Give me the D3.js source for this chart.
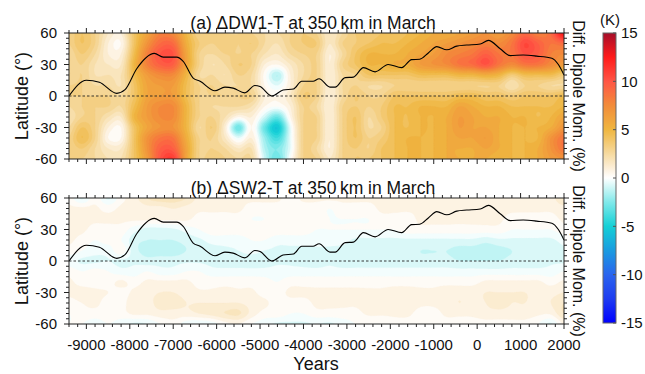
<!DOCTYPE html>
<html>
<head>
<meta charset="utf-8">
<script src="https://cdn.jsdelivr.net/npm/d3@7"></script>
<style>
  body { margin: 0; background: #fff; }
  text { font-family: "Liberation Sans", Arial, sans-serif; fill: #111; }
</style>
</head>
<body>
<div id="chart"></div>
<script>
// grid columns (years) and rows (latitudes) of the temperature differences
const gridYears = [-9400, -9100, -8800, -8500, -8200, -7900, -7600, -7300, -7000, -6700,
  -6400, -6100, -5800, -5500, -5200, -4900, -4600, -4300, -4000, -3700,
  -3400, -3100, -2800, -2500, -2200, -1900, -1600, -1300, -1000, -700,
  -400, -100, 200, 500, 800, 1100, 1400, 1700, 2000];
const gridLats = [60, 50, 40, 30, 20, 10, 0, -10, -20, -30, -40, -50, -60];

// (a) DW1-T, one column per year, values from 60N down to 60S (K)
const dw1 = [
  [3, 3, 2.5, 2.5, 2.5, 3, 3, 2.5, 2, 2.5, 3, 3, 3],
  [4, 4, 3.5, 3, 3, 3, 3, 3, 3, 4, 4.5, 3.5, 3],
  [3, 3, 2.5, 2, 2, 2.5, 3, 3, 3, 3, 3, 2.5, 2.5],
  [1.5, 1, 1, 1.5, 2, 2.5, 3, 3, 2, 1, 0.5, 1.5, 2],
  [1, 0.5, 1, 1.5, 2, 2, 2.5, 2.5, 1.5, 0.5, 0.5, 1.5, 2],
  [4, 4, 4.5, 5, 4.5, 4, 4, 4.5, 5, 4, 4, 4, 4],
  [6, 7, 8, 8, 6.5, 6, 6, 6.5, 6.5, 6, 7, 7, 6.5],
  [8, 9, 10, 9.5, 7.5, 6.5, 6.5, 7.5, 7.5, 7, 8.5, 9.5, 10],
  [7.5, 9, 10, 9.5, 7.5, 6.5, 6.5, 7.5, 7.5, 7, 8.5, 9.5, 11],
  [5, 5.5, 6, 6, 5, 4.5, 4.5, 5, 5, 5, 5.5, 6, 6],
  [3, 3.5, 3, 3, 2.5, 3, 3, 3, 3, 2.5, 3, 3, 3],
  [3.5, 3, 2.5, 2, 2.5, 3, 3, 2.5, 3, 3.5, 3, 3, 3.5],
  [3, 3.5, 3, 2.5, 2, 2.5, 3, 2.5, 2, 1, 1.5, 2.5, 3],
  [3, 3, 3, 3.5, 3, 2.5, 3, 2.5, 0.5, -3, -0.5, 1.5, 2.5],
  [3, 3.5, 3, 3, 2.5, 2.5, 3, 2, 1, 0.5, 1, 2, 2.5],
  [2.5, 2.5, 2, 1, 0.3, 0.5, 1, 0.5, -1, -3, -2, -1.5, -1],
  [2.5, 2, 1.5, 0.5, -1.5, -0.5, 0.5, 0, -3, -5.5, -4, -2.5, -3],
  [3, 3, 2.5, 1.5, 1, 1, 1.5, 1, 0.5, -0.5, -0.5, -0.5, 0],
  [3.5, 3.5, 3, 2.5, 2.5, 3, 3.5, 3, 3, 3, 3, 3, 3],
  [3, 3.5, 3, 3, 3, 3, 3, 2.5, 3, 3, 3, 2.5, 3],
  [1.5, 1.5, 1, 1, 1, 1, 1, 1, 1, 1, 1, 1, 1.5],
  [2.5, 3, 2.5, 3, 2.5, 2.5, 2.5, 3, 3, 3, 3, 3, 3],
  [3.5, 3.5, 4, 4, 3, 3, 3.5, 3.5, 4, 4, 4, 3.5, 3.5],
  [3.5, 4, 5, 5, 4, 2.5, 3, 3, 2.5, 2.5, 3, 3, 3.5],
  [4, 4.5, 5, 5, 4, 2.5, 3, 3.5, 3.5, 3, 3.5, 4, 4],
  [4, 4.5, 5, 5.5, 4, 3, 4, 4.5, 4.5, 4.5, 4.5, 4.5, 4.5],
  [4.5, 5, 5.5, 5.5, 4, 3, 4, 4.5, 4.5, 4.5, 5, 5, 5],
  [5, 5.5, 6, 6.5, 4.5, 3, 4, 5, 5, 5, 5, 5, 5],
  [5.5, 6, 6.5, 7, 4.5, 3, 4, 5, 5, 5, 5, 5, 5],
  [5.5, 6.5, 7.5, 7.5, 4.5, 3, 4, 5, 5.5, 5.5, 5.5, 5.5, 5.5],
  [6, 7, 8, 8.5, 5, 3, 4.5, 6, 6.5, 6.5, 6, 5.5, 5.5],
  [6.5, 7.5, 8.5, 9, 5, 3, 4.5, 5.5, 6, 6, 6, 5.5, 5.5],
  [7, 8, 9.5, 10, 5.5, 3, 4, 5, 5.5, 6, 6.5, 6, 5.5],
  [6.5, 7.5, 8.5, 8.5, 5, 3, 4, 5, 5.5, 5.5, 5.5, 5.5, 5],
  [7.5, 8.5, 8.5, 7.5, 3.5, 2, 3.5, 4.5, 5, 5, 5, 5, 5],
  [9, 10.5, 10, 8.5, 4.5, 3, 4, 4.5, 5, 5, 5, 5, 5],
  [8, 9.5, 9.5, 8.5, 4.5, 3, 4, 4.5, 4.5, 5, 5, 5.5, 5.5],
  [9, 8.5, 8, 7.5, 4.5, 2.5, 4, 4.5, 5, 5.5, 7, 7, 6.5],
  [13, 9, 7.5, 6.5, 3.5, 2.5, 4.5, 5, 6, 7, 8.5, 8.5, 7]
];

// (b) SW2-T, same layout (K)
const sw2 = [
  [0.3, 0.6, 0.6, 0.6, 0.6, 0.3, -0.3, 0.3, 0.6, 0.6, 0.3, 0, 0],
  [-0.6, 0.6, 0.6, 0.6, 0.3, 0, -0.6, 0, 0.3, 0.7, 0.5, 0.3, 0],
  [0.3, 0.6, 0.6, 0.3, 0, -0.3, -0.6, 0.2, 0.3, 0.6, 0.6, 0.3, -0.3],
  [-0.6, 0.3, 0.6, 0.3, 0.2, -0.3, -0.5, 0, 0.3, 0.5, 0.3, 0.3, 0],
  [0.3, 0.6, 0.6, 0.3, 0, 0.3, -0.6, -0.3, 0.6, 0.3, 0.3, 0.3, -0.3],
  [0.8, 0.6, 0.6, -0.3, -0.8, -0.8, -0.6, -0.3, 0.3, 0.6, 0.8, 0.6, -0.6],
  [1.5, 0.8, 0.6, -0.7, -1, -1.2, -0.8, 0, 0.6, 0.8, 0.8, 0.6, -0.5],
  [1.8, 0.8, 0.6, -0.7, -1, -1.3, -0.7, -0.3, 0.6, 1, 1.2, 0.8, 0],
  [1.8, 1, 0.6, -0.6, -1, -1.3, -0.7, -0.3, 0.6, 1, 1.2, 0.8, 0.3],
  [1.5, 0.8, 0.6, -0.3, -0.8, -1, -0.6, 0, 0.6, 0.8, 1, 0.8, -0.3],
  [0.8, 0.6, 0.3, 0, -0.6, -0.8, -0.6, 0, 0.3, 0.6, 1, 1, -0.5],
  [0.6, 0.6, 0.3, 0.3, -0.3, -0.7, -0.7, -0.3, 0.3, 0.6, 1, 1.2, -0.3],
  [0.8, 0.6, 0.3, 0.3, -0.3, -0.6, -0.8, -0.3, 0.3, 0.7, 1, 1.5, 0.3],
  [0.6, 0.6, 0.3, 0.3, -0.3, -0.5, -0.8, -0.3, 0.3, 0.6, 1, 1.6, 0.5],
  [0.6, 0.3, 0, 0.3, 0, -0.3, -0.8, -0.3, 0.3, 0.6, 0.8, 0.8, 0],
  [0.6, 0.3, 0, 0.3, 0, -0.5, -0.8, -0.3, 0.2, 0.3, 0.6, 0.3, -0.3],
  [0.6, 0.3, 0.3, 0.3, -0.3, -0.6, -0.6, -0.3, 0, 0.3, 0.3, 0.3, -0.6],
  [0.3, 0.3, 0.3, 0.3, -0.3, -0.6, -0.6, -0.3, 0.3, 0.6, 0.3, 0, -0.6],
  [0.6, 0.3, 0.3, 0.3, -0.3, -0.6, -0.7, -0.3, 0.3, 0.6, 0.3, 0, -0.6],
  [0.6, 0.3, 0.3, 0, -0.3, -0.6, -0.8, -0.3, 0.3, 0.6, 0.6, 0.3, -0.5],
  [0.6, 0, 0, 0, -0.3, -0.6, -0.6, -0.3, 0.3, 0.6, 0.6, 0.3, -0.6],
  [0.6, 0.3, 0, 0, -0.3, -0.7, -0.8, -0.3, 0.3, 0.6, 0.6, 0.3, -0.3],
  [0.6, 0.3, 0, 0, -0.6, -0.8, -0.8, -0.3, 0.3, 0.6, 0.6, 0.3, 0],
  [0.6, 0.3, 0, 0, -0.6, -0.8, -0.8, -0.3, 0.3, 0.6, 0.8, 0.6, 0],
  [0.6, 0.6, 0.3, 0, -0.6, -0.8, -0.8, -0.3, 0.3, 0.6, 0.8, 0.6, 0],
  [0.6, 0.6, 0.3, 0, -0.6, -0.8, -0.8, -0.3, 0.3, 0.7, 0.8, 0.6, 0.3],
  [0.8, 0.6, 0.3, 0.3, -0.6, -0.8, -0.8, -0.3, 0.3, 0.7, 0.8, 0.6, 0.3],
  [0.8, 0.6, 0.6, 0.3, -0.6, -1, -0.8, -0.3, 0.3, 0.6, 0.6, 0.3, 0.3],
  [0.8, 0.6, 0.6, 0.3, -0.6, -1, -0.8, -0.3, 0.3, 0.6, 0.6, 0.3, 0.3],
  [0.8, 0.6, 0.6, 0.3, -0.6, -1, -0.8, -0.3, 0.3, 0.8, 0.8, 0.6, 0.3],
  [0.8, 0.8, 0.6, 0.3, -0.6, -1.2, -1, -0.3, 0.3, 0.8, 1, 0.6, 0.3],
  [0.8, 0.6, 0.6, 0.3, -0.6, -1.2, -1, -0.3, 0.3, 0.8, 0.8, 0.6, 0.3],
  [0.8, 0.6, 0.6, 0.3, -0.8, -1.3, -1, -0.3, 0.6, 1, 1, 0.8, 0.3],
  [0.8, 0.6, 0.6, 0.3, -0.6, -1.2, -1, -0.3, 0.6, 1, 1.2, 0.8, 0.3],
  [0.6, 0.6, 0.3, 0, -0.6, -1, -0.8, -0.3, 0.6, 1, 1, 0.8, 0.3],
  [0.8, 0.6, 0.3, 0, -0.6, -0.8, -0.8, -0.3, 0.6, 1, 1, 0.8, 0.3],
  [0.8, 0.6, 0.3, 0, -0.6, -0.8, -0.8, -0.3, 0.6, 0.8, 0.8, 0.6, 0],
  [0.8, 0.6, 0.3, 0, -0.6, -0.8, -0.6, -0.3, 0.3, 0.8, 1, 0.6, -0.6],
  [1.5, 0.8, 0.6, 0.3, -0.3, -0.6, -0.6, 0, 0.6, 1, 1.5, 1.5, 0.6]
];

// dipole moment difference, drawn in the latitude frame (right axis has no labels)
const dipoleYears = [-9400, -9000, -8700, -8300, -8110, -7840, -7435, -7230, -6920, -6770,
  -6540, -6380, -6040, -5810, -5620, -5350, -5120, -5000, -4730, -4470,
  -4230, -4040, -3780, -3640, -3390, -3270, -3040, -2850, -2620, -2350,
  -2050, -1740, -1510, -1320, -1125, -930, -700, -470, -240, 70,
  260, 530, 760, 1060, 1370, 1720, 1870, 2000];
const dipoleDiff = [0, 15, 13, 2.5, 6, 26, 40.6, 37, 37, 33,
  17, 14, 5, 8.5, 7.5, 3, 10, 9, 0, 5.7,
  6.7, 14, 14, 16.5, 8.5, 8.5, 17.5, 18, 27, 23,
  30, 27, 34.6, 35, 41, 47, 44, 47.5, 48.5, 49.5,
  53, 45, 38.5, 39, 38, 36, 30, 20];

const xTicks = [-9000, -8000, -7000, -6000, -5000, -4000, -3000, -2000, -1000, 0, 1000, 2000];
const yTicks = [60, 30, 0, -30, -60];
const cbTicks = [15, 10, 5, 0, -5, -10, -15];
const titles = ["(a) \u0394DW1-T at 350\u2009km in March", "(b) \u0394SW2-T at 350\u2009km in March"];

const cmapStops = [-15, -12.5, -10, -7.5, -5, -2.5, -1, 0, 1, 2.5, 5, 7.5, 10, 12.5, 15];
const cmapColors = ["#0000ff", "#1e3cf0", "#2a64ee", "#1a9be0", "#14d0d6", "#80e9ea", "#cdf6f6", "#ffffff",
  "#fcefd9", "#f6daa0", "#efb640", "#f28c3a", "#ff5545", "#ff1a1a", "#a50f2a"];

const width = 645, height = 374;
const x = d3.scaleLinear().domain([-9400, 2000]).range([69, 564]);
const panelTops = [33, 198], panelH = 126;
const color = d3.scaleLinear().domain(cmapStops).range(cmapColors).clamp(true);

const svg = d3.select("#chart").append("svg")
  .attr("width", width).attr("height", height);

function cubic(p0, p1, p2, p3, t) {
  return p1 + 0.5 * t * (p2 - p0 + t * (2 * p0 - 5 * p1 + 4 * p2 - p3 + t * (3 * (p1 - p2) + p3 - p0)));
}

// smooth the coarse grid for contouring (rendering only)
function resample(cols, k) {
  const nc = cols.length, nr = cols[0].length;
  const nx = (nc - 1) * k + 1, ny = (nr - 1) * k + 1;
  const get = (c, r) => cols[Math.max(0, Math.min(nc - 1, c))][Math.max(0, Math.min(nr - 1, r))];
  const values = new Float64Array(nx * ny);
  for (let j = 0; j < ny; j++) {
    const r = Math.min(Math.floor(j / k), nr - 2), tr = j / k - r;
    for (let i = 0; i < nx; i++) {
      const c = Math.min(Math.floor(i / k), nc - 2), tc = i / k - c;
      const v = [-1, 0, 1, 2].map(d => cubic(get(c - 1, r + d), get(c, r + d), get(c + 1, r + d), get(c + 2, r + d), tc));
      values[j * nx + i] = cubic(v[0], v[1], v[2], v[3], tr);
    }
  }
  return { values, nx, ny };
}

function drawPanel(cols, idx) {
  const top = panelTops[idx];
  const y = d3.scaleLinear().domain([-60, 60]).range([top + panelH, top]);
  const g = svg.append("g");

  g.append("clipPath").attr("id", "clip" + idx)
    .append("rect").attr("x", x.range()[0]).attr("y", top)
    .attr("width", x.range()[1] - x.range()[0]).attr("height", panelH);

  const k = 8;
  const grid = resample(cols, k);
  const gx = d3.scaleLinear().domain([0, grid.nx - 1]).range([x(gridYears[0]), x(gridYears[gridYears.length - 1])]);
  const gy = d3.scaleLinear().domain([0, grid.ny - 1]).range([y(gridLats[0]), y(gridLats[gridLats.length - 1])]);
  const thresholds = d3.range(-15, 15.01, 0.5);
  const contours = d3.contours().size([grid.nx, grid.ny]).thresholds(thresholds)(grid.values);
  const proj = d3.geoTransform({
    point: function (px, py) { this.stream.point(gx(px - 0.5), gy(py - 0.5)); }
  });
  const path = d3.geoPath(proj);

  g.append("g").attr("clip-path", "url(#clip" + idx + ")")
    .selectAll("path")
    .data(contours)
    .join("path")
    .attr("d", path)
    .attr("fill", d => color(d.value + 0.25))
    .attr("stroke", d => color(d.value + 0.25))
    .attr("stroke-width", 0.3);

  // zero latitude
  g.append("line")
    .attr("x1", x.range()[0]).attr("x2", x.range()[1])
    .attr("y1", y(0)).attr("y2", y(0))
    .attr("stroke", "#222").attr("stroke-width", 0.9)
    .attr("stroke-dasharray", "2.5,2");

  // dipole moment line
  const line = d3.line()
    .x((d, i) => x(dipoleYears[i]))
    .y(d => y(d))
    .curve(d3.curveMonotoneX);
  g.append("path")
    .datum(dipoleDiff)
    .attr("d", line)
    .attr("fill", "none")
    .attr("stroke", "#000")
    .attr("stroke-width", 1.1)
    .attr("clip-path", "url(#clip" + idx + ")");

  // frame and outward ticks
  const x0 = x.range()[0], x1 = x.range()[1], yb = top + panelH;
  const ticks = g.append("g").attr("stroke", "#222").attr("stroke-width", 1);
  const minorX = d3.range(-9400, 2001, 200);
  minorX.forEach(v => {
    const major = xTicks.includes(v);
    const len = major ? 5 : 3;
    ticks.append("line").attr("x1", x(v)).attr("x2", x(v)).attr("y1", top).attr("y2", top - len);
    ticks.append("line").attr("x1", x(v)).attr("x2", x(v)).attr("y1", yb).attr("y2", yb + len);
  });
  d3.range(-60, 60.1, 5).forEach(v => {
    const major = yTicks.includes(v);
    const len = major ? 5 : 3;
    ticks.append("line").attr("x1", x0).attr("x2", x0 - len).attr("y1", y(v)).attr("y2", y(v));
    ticks.append("line").attr("x1", x1).attr("x2", x1 + len).attr("y1", y(v)).attr("y2", y(v));
  });
  g.append("rect")
    .attr("x", x0).attr("y", top).attr("width", x1 - x0).attr("height", panelH)
    .attr("fill", "none").attr("stroke", "#222").attr("stroke-width", 1);

  g.selectAll("text.ylab")
    .data(yTicks)
    .join("text")
    .attr("class", "ylab")
    .attr("x", 57).attr("y", d => y(d)).attr("dy", "0.36em")
    .attr("text-anchor", "end")
    .style("font-size", "15px")
    .text(d => d);

  g.append("text")
    .attr("transform", `translate(28,${top + panelH / 2}) rotate(-90)`)
    .attr("text-anchor", "middle")
    .style("font-size", "18px")
    .text("Latitude (\u00b0)");

  g.append("text")
    .attr("transform", `translate(573,${top + panelH / 2}) rotate(90)`)
    .attr("text-anchor", "middle")
    .style("font-size", "16px")
    .text("Diff. Dipole Mom. (%)");

  g.append("text")
    .attr("x", 313).attr("y", top - 4)
    .attr("text-anchor", "middle")
    .style("font-size", "17.5px")
    .text(titles[idx]);

  return y;
}

drawPanel(dw1, 0);
drawPanel(sw2, 1);

// x tick labels and title under panel b
svg.selectAll("text.xlab")
  .data(xTicks)
  .join("text")
  .attr("class", "xlab")
  .attr("x", d => x(d)).attr("y", 349.5)
  .attr("text-anchor", "middle")
  .style("font-size", "15px")
  .text(d => d);

svg.append("text")
  .attr("x", 316).attr("y", 370)
  .attr("text-anchor", "middle")
  .style("font-size", "18px")
  .text("Years");

// colour bar
const cb = d3.scaleLinear().domain([-15, 15]).range([323, 33]);
const grad = svg.append("defs").append("linearGradient")
  .attr("id", "cbgrad").attr("x1", 0).attr("y1", 1).attr("x2", 0).attr("y2", 0);
grad.selectAll("stop")
  .data(d3.range(-15, 15.01, 0.25))
  .join("stop")
  .attr("offset", d => (d + 15) / 30)
  .attr("stop-color", d => color(d));
svg.append("rect")
  .attr("x", 603).attr("y", cb(15)).attr("width", 13).attr("height", cb(-15) - cb(15))
  .attr("fill", "url(#cbgrad)")
  .attr("stroke", "#666").attr("stroke-width", 1);
svg.append("g").attr("stroke", "#555")
  .selectAll("line").data(cbTicks).join("line")
  .attr("x1", 616).attr("x2", 613).attr("y1", d => cb(d)).attr("y2", d => cb(d));
svg.selectAll("text.cblab")
  .data(cbTicks)
  .join("text")
  .attr("class", "cblab")
  .attr("x", 621).attr("y", d => cb(d)).attr("dy", "0.36em")
  .style("font-size", "15px")
  .text(d => d);
svg.append("text")
  .attr("x", 610).attr("y", 25)
  .attr("text-anchor", "middle")
  .style("font-size", "15px")
  .text("(K)");
</script>
</body>
</html>
